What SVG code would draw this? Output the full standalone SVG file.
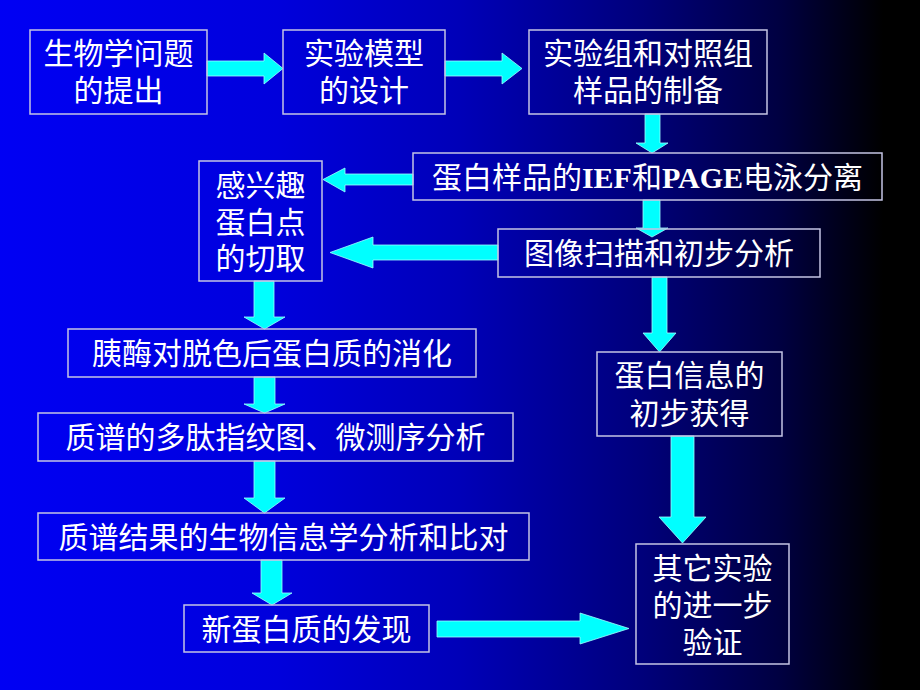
<svg xmlns="http://www.w3.org/2000/svg" width="920" height="690" viewBox="0 0 920 690">
<defs>
<linearGradient id="bg" x1="0" y1="0" x2="1" y2="0">
<stop offset="0" stop-color="#0000F4"/>
<stop offset="0.3" stop-color="#0000DC"/>
<stop offset="0.5" stop-color="#0000B8"/>
<stop offset="0.7" stop-color="#00007A"/>
<stop offset="0.85" stop-color="#000040"/>
<stop offset="0.96" stop-color="#000000"/>
</linearGradient>
<style>
.box{fill:none;stroke:#C4C4E4;stroke-width:1.5}
.t{fill:#FFFFFF;font-family:"Noto Sans CJK SC","Noto Sans CJK TC",sans-serif;font-size:30px;text-anchor:middle}
.lat{font-family:"Liberation Serif","Times New Roman",serif;font-weight:bold}
.arr{fill:#00FFFF;stroke:#A0FFFF;stroke-width:0.8}
</style>
</defs>
<rect x="0" y="0" width="920" height="690" fill="url(#bg)"/>

<g id="connectors">
<polygon class="arr" points="207,61 264,61 264,53 283,68.5 264,84 264,76 207,76"/>
<polygon class="arr" points="445,61 502,61 502,53 522,68.5 502,84 502,76 445,76"/>
<polygon class="arr" points="645,114 660,114 660,143 668,143 652,153 636,143 645,143"/>
<polygon class="arr" points="413,174 345,174 345,168 323,179.5 345,192 345,185 413,185"/>
<polygon class="arr" points="643,200 660,200 660,228 668,228 652,237 636,228 643,228"/>
<polygon class="arr" points="498,245 373,245 373,237 330,252.5 373,268 373,260 498,260"/>
<polygon class="arr" points="254,281 274,281 274,317 285,317 264.5,329 244,317 254,317"/>
<polygon class="arr" points="254,377 275,377 275,404 285,404 264.5,413 244,404 254,404"/>
<polygon class="arr" points="254,461 275,461 275,498 285,498 264.5,513 244,498 254,498"/>
<polygon class="arr" points="261,560 282,560 282,593 292,593 272,605 252,593 261,593"/>
<polygon class="arr" points="437,621 580,621 580,613 629,628.5 580,644 580,637 437,637"/>
<polygon class="arr" points="652,277 667,277 667,333 676,333 659.5,352 643,333 652,333"/>
<polygon class="arr" points="671,436 694,436 694,517 706,517 682.5,543 659,517 671,517"/>
</g>

<g id="n1">
<rect class="box" x="30" y="30" width="177" height="84"/>
<text class="t" x="118.5" y="64">生物学问题</text>
<text class="t" x="118.5" y="101">的提出</text>
</g>
<g id="n2">
<rect class="box" x="283" y="30" width="162" height="84"/>
<text class="t" x="364" y="64">实验模型</text>
<text class="t" x="364" y="101">的设计</text>
</g>
<g id="n3">
<rect class="box" x="529" y="30" width="238" height="84"/>
<text class="t" x="648" y="64">实验组和对照组</text>
<text class="t" x="648" y="101">样品的制备</text>
</g>
<g id="n4">
<rect class="box" x="413" y="153" width="469" height="47"/>
<text class="t" x="647.5" y="187.5">蛋白样品的<tspan class="lat">IEF</tspan>和<tspan class="lat">PAGE</tspan>电泳分离</text>
</g>
<g id="n5">
<rect class="box" x="199" y="161" width="123" height="120"/>
<text class="t" x="260.5" y="196">感兴趣</text>
<text class="t" x="260.5" y="233">蛋白点</text>
<text class="t" x="260.5" y="269">的切取</text>
</g>
<g id="n6">
<rect class="box" x="498" y="229" width="322" height="48"/>
<text class="t" x="659" y="264">图像扫描和初步分析</text>
</g>
<g id="n7">
<rect class="box" x="68" y="329" width="408" height="48"/>
<text class="t" x="272" y="364">胰酶对脱色后蛋白质的消化</text>
</g>
<g id="n8">
<rect class="box" x="597" y="352" width="185" height="84"/>
<text class="t" x="689.5" y="386">蛋白信息的</text>
<text class="t" x="689.5" y="424">初步获得</text>
</g>
<g id="n9">
<rect class="box" x="38" y="413" width="475" height="48"/>
<text class="t" x="275.5" y="448">质谱的多肽指纹图、微测序分析</text>
</g>
<g id="n10">
<rect class="box" x="38" y="513" width="491" height="47"/>
<text class="t" x="283.5" y="547.5">质谱结果的生物信息学分析和比对</text>
</g>
<g id="n11">
<rect class="box" x="184" y="605" width="245" height="47"/>
<text class="t" x="306.5" y="639.5">新蛋白质的发现</text>
</g>
<g id="n12">
<rect class="box" x="636" y="544" width="153" height="120"/>
<text class="t" x="712.5" y="579">其它实验</text>
<text class="t" x="712.5" y="616">的进一步</text>
<text class="t" x="712.5" y="653">验证</text>
</g>
</svg>
